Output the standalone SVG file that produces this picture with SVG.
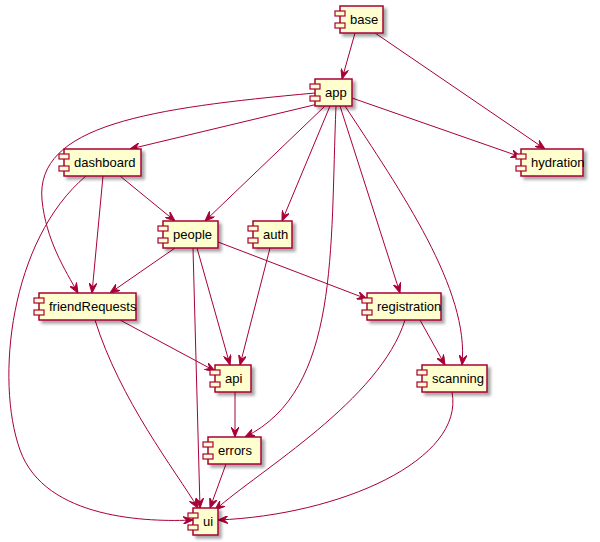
<svg xmlns="http://www.w3.org/2000/svg" width="600" height="542" viewBox="0 0 600 542">
<style>
.n rect.b{fill:#FEFECE;stroke:#A80036;stroke-width:1.5;filter:url(#sh)}
.n rect.p{fill:#FEFECE;stroke:#A80036;stroke-width:1.2}
.n text{font-family:"Liberation Sans",Arial,sans-serif;font-size:13px;fill:#000}
#edges path{fill:none;stroke:#A80036;stroke-width:1;marker-end:url(#ah)}
</style>
<defs>
<filter id="sh" x="-20%" y="-30%" width="150%" height="180%"><feDropShadow dx="3" dy="3" stdDeviation="1.5" flood-color="#000" flood-opacity="0.35"/></filter>
<marker id="ah" viewBox="0 0 10 8" refX="10" refY="4" markerWidth="10" markerHeight="8" markerUnits="userSpaceOnUse" orient="auto"><path d="M0,0 L10,4 L0,8 L4,4 Z" fill="#A80036" stroke="#A80036"/></marker>
</defs>
<g id="edges">
<path d="M355,33 L342,79"/>
<path d="M375,33 L545,149"/>
<path d="M352,98 L521,157"/>
<path d="M318,104 L130,149"/>
<path d="M315,93 C150,108 35,125 42,200 C46,240 65,270 78,293"/>
<path d="M325,106 L205,221"/>
<path d="M330,106 L282,221"/>
<path d="M340,106 L400,293"/>
<path d="M345,106 C400,190 470,290 462,365"/>
<path d="M336,106 C330,250 340,390 245,437"/>
<path d="M120,176 L175,221"/>
<path d="M103,176 L92,293"/>
<path d="M86,176 C10,240 -5,380 20,450 C45,520 150,522 193,520"/>
<path d="M175,248 L110,293"/>
<path d="M218,242 L367,299"/>
<path d="M197,248 L230,365"/>
<path d="M193,248 L200,508"/>
<path d="M270,248 L240,365"/>
<path d="M120,320 L215,371"/>
<path d="M95,320 C120,400 175,470 198,508"/>
<path d="M405,320 C380,400 260,470 215,510"/>
<path d="M420,320 L445,365"/>
<path d="M452,392 C465,460 340,515 218,520"/>
<path d="M235,392 L235,437"/>
<path d="M226,464 L210,508"/>
</g>
<g id="base" class="n"><rect class="b" x="340" y="6" width="43" height="27"/><rect class="p" x="335" y="11" width="10" height="5"/><rect class="p" x="335" y="23" width="10" height="5"/><text x="350" y="24">base</text></g>
<g id="app" class="n"><rect class="b" x="315" y="79" width="37" height="27"/><rect class="p" x="310" y="84" width="10" height="5"/><rect class="p" x="310" y="96" width="10" height="5"/><text x="325" y="97">app</text></g>
<g id="dashboard" class="n"><rect class="b" x="64" y="149" width="77" height="27"/><rect class="p" x="59" y="154" width="10" height="5"/><rect class="p" x="59" y="166" width="10" height="5"/><text x="74" y="167">dashboard</text></g>
<g id="hydration" class="n"><rect class="b" x="521" y="149" width="62" height="27"/><rect class="p" x="516" y="154" width="10" height="5"/><rect class="p" x="516" y="166" width="10" height="5"/><text x="531" y="167">hydration</text></g>
<g id="people" class="n"><rect class="b" x="163" y="221" width="55" height="27"/><rect class="p" x="158" y="226" width="10" height="5"/><rect class="p" x="158" y="238" width="10" height="5"/><text x="173" y="239">people</text></g>
<g id="auth" class="n"><rect class="b" x="253" y="221" width="39" height="27"/><rect class="p" x="248" y="226" width="10" height="5"/><rect class="p" x="248" y="238" width="10" height="5"/><text x="263" y="239">auth</text></g>
<g id="friendRequests" class="n"><rect class="b" x="39" y="293" width="97" height="27"/><rect class="p" x="34" y="298" width="10" height="5"/><rect class="p" x="34" y="310" width="10" height="5"/><text x="49" y="311">friendRequests</text></g>
<g id="registration" class="n"><rect class="b" x="367" y="293" width="74" height="27"/><rect class="p" x="362" y="298" width="10" height="5"/><rect class="p" x="362" y="310" width="10" height="5"/><text x="377" y="311">registration</text></g>
<g id="api" class="n"><rect class="b" x="215" y="365" width="36" height="27"/><rect class="p" x="210" y="370" width="10" height="5"/><rect class="p" x="210" y="382" width="10" height="5"/><text x="225" y="383">api</text></g>
<g id="scanning" class="n"><rect class="b" x="422" y="365" width="65" height="27"/><rect class="p" x="417" y="370" width="10" height="5"/><rect class="p" x="417" y="382" width="10" height="5"/><text x="432" y="383">scanning</text></g>
<g id="errors" class="n"><rect class="b" x="208" y="437" width="53" height="27"/><rect class="p" x="203" y="442" width="10" height="5"/><rect class="p" x="203" y="454" width="10" height="5"/><text x="218" y="455">errors</text></g>
<g id="ui" class="n"><rect class="b" x="193" y="508" width="25" height="27"/><rect class="p" x="188" y="513" width="10" height="5"/><rect class="p" x="188" y="525" width="10" height="5"/><text x="203" y="526">ui</text></g>
</svg>
